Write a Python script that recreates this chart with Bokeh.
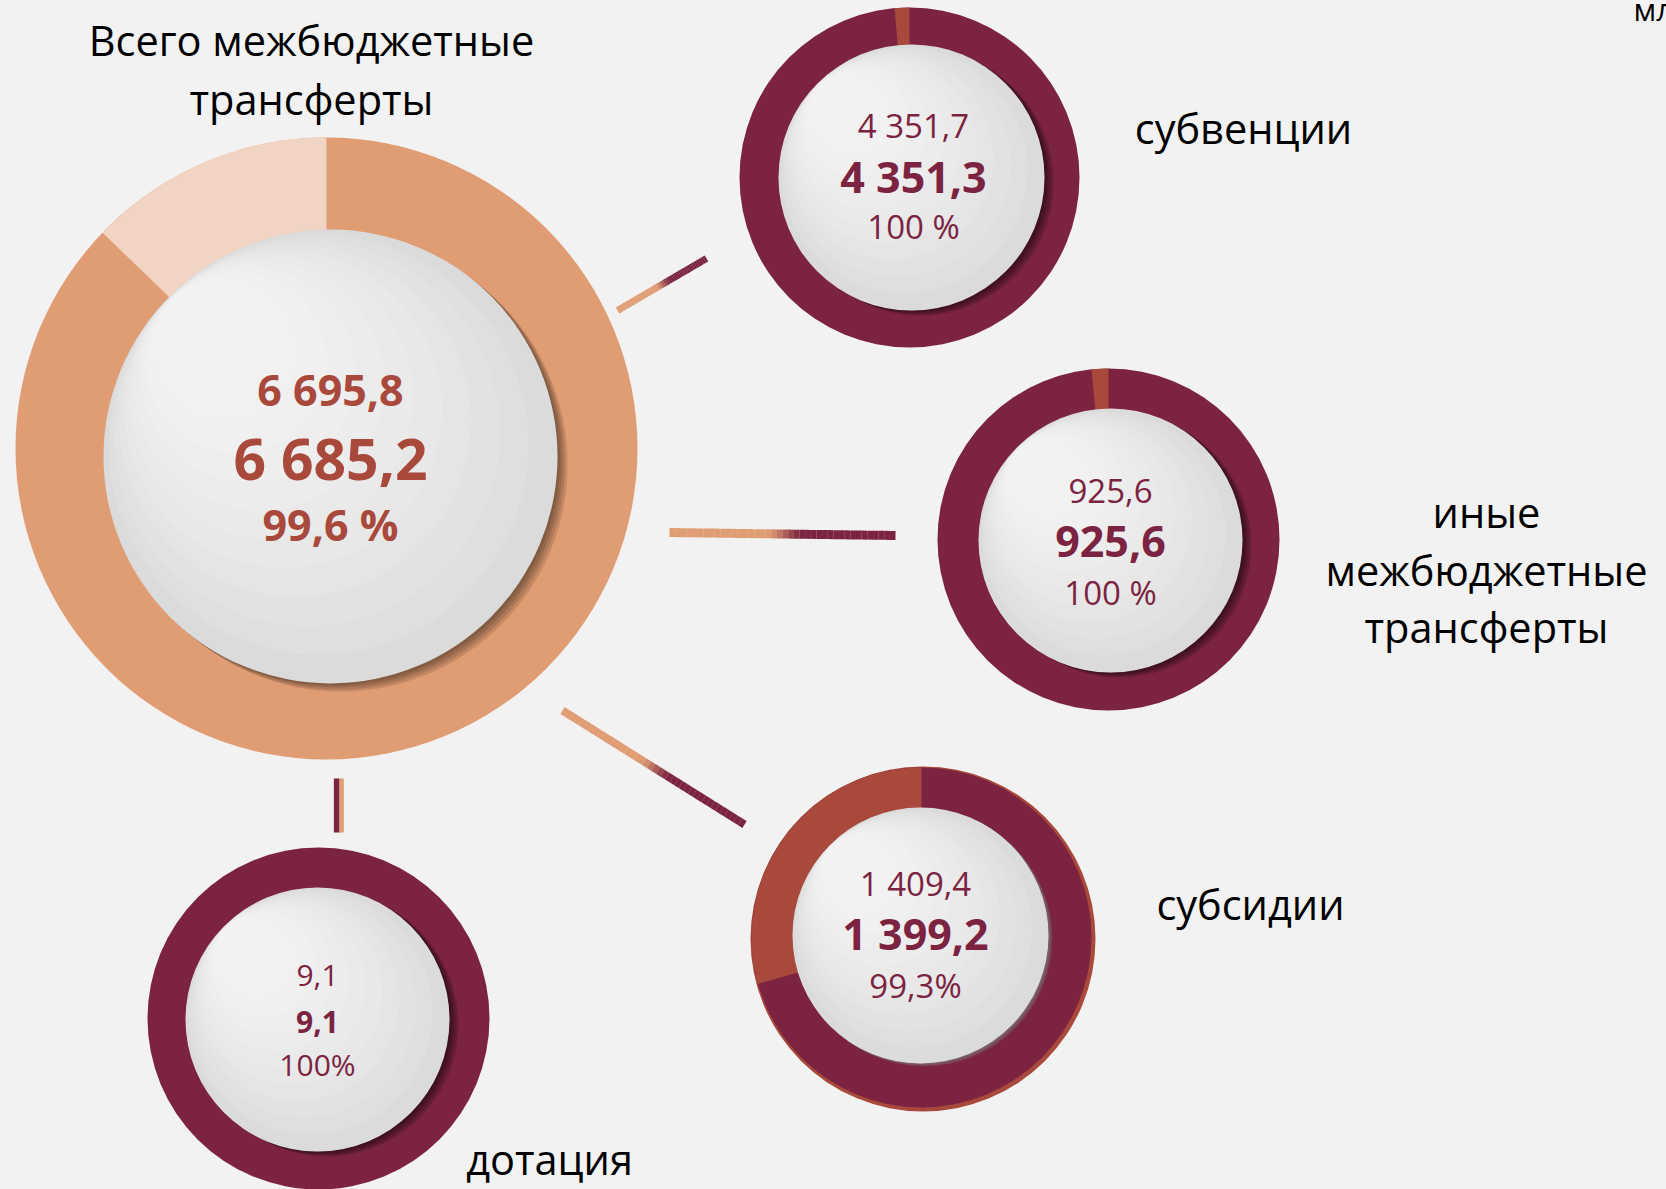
import math
from bokeh.plotting import figure
from bokeh.models import Range1d, GlobalInlineStyleSheet
from bokeh.core.properties import value
from bokeh.embed import file_html
from bokeh.resources import INLINE

# ---------------- data ----------------
categories = ["Всего межбюджетные трансферты", "субвенции",
              "иные межбюджетные трансферты", "субсидии", "дотация"]
label_lines = [["Всего межбюджетные", "трансферты"], ["субвенции"],
               ["иные", "межбюджетные", "трансферты"], ["субсидии"], ["дотация"]]
plan_values = [6695.8, 4351.7, 925.6, 1409.4, 9.1]      # план, млн руб.
fact_values = [6685.2, 4351.3, 925.6, 1399.2, 9.1]      # исполнено, млн руб.
percent_values = [99.6, 100, 100, 99.3, 100]            # % исполнения
percent_space = [" ", " ", " ", "", ""]
ring_main_share = [87.2, 98.6, 98.4, 70.6, 100.0]       # доли кольца, %
ring_accent_share = [12.8, 1.4, 1.6, 29.4, 0.0]
unit_label = "млн рублей"

# ---------------- styles / layout ----------------
BG = "#F2F2F2"
ring_main_color = ["#E09C72", "#7B2340", "#7B2340", "#7B2340", "#7B2340"]
ring_accent_color = ["#F2D4C4", "#A8493C", "#A8493C", "#A8493C", "#A8493C"]
text_color = ["#A8493C", "#7B2340", "#7B2340", "#7B2340", "#7B2340"]

W, H = 1666, 1189
def Y(y):
    return H - y

ring_cx = [326, 909, 1108, 921, 318]
ring_cy = [448, 177, 539, 937, 1018]
ring_R = [311, 170, 171, 170, 171]
face_cx = [330, 911, 1110, 920, 317]
face_cy = [456, 177, 540, 935, 1019]
face_r = [227, 133, 132, 128, 132]
shadow_off = [(10, 8), (9, 5), (9, 5), (4, 3), (9, 5)]
shadow_color = ["#000000", "#000000", "#000000", "#7a7a7a", "#000000"]
shadow_alpha = [0.12, 0.15, 0.15, 0.25, 0.15]

text_x = [330, 913, 1110, 915, 317]
text_rows = [[389, 457, 524], [125, 176, 226], [490, 541, 592], [883, 933, 985], [975, 1021, 1064]]
text_sizes = [[43, 57, 43], [33, 43, 33], [33, 43, 33], [33, 43, 33], [30, 30, 30]]
text_bold = [[True, True, True], [False, True, False], [False, True, False],
             [False, True, False], [False, True, False]]

label_x = [311, 1243, 1486, 1250, 549]
label_base = [[39, 98], [127], [511, 569, 626], [903], [1158]]
LABEL_SIZE = 41.5

FONT = "Open Sans"

p = figure(width=W, height=H, x_range=Range1d(0, W), y_range=Range1d(0, H),
           output_backend="svg", toolbar_location=None, min_border=0,
           x_axis_type=None, y_axis_type=None,
           background_fill_color=BG, border_fill_color=BG, outline_line_color=None)
p.grid.visible = False
p.stylesheets = [GlobalInlineStyleSheet(css="html, body { background-color: #F2F2F2; }")]

# ---------------- connectors (gradient bars) ----------------
ORANGE = (0xE0, 0x9C, 0x72)
MAROON = (0x7B, 0x23, 0x40)
def mix(t):
    return "#%02x%02x%02x" % tuple(int(round(a + (b - a) * t)) for a, b in zip(ORANGE, MAROON))

connectors = [((617, 310), (706, 258), 7), ((669, 532), (895, 535), 9), ((562, 710), (744, 824), 8)]
N = 40
for (x0, y0), (x1, y1), w in connectors:
    xs0, ys0, xs1, ys1, cols = [], [], [], [], []
    for i in range(N):
        t0, t1 = i / N, min((i + 1.02) / N, 1)
        tm = (i + 0.5) / N
        u = min(max((tm - 0.42) / 0.18, 0), 1)
        u = u * u * (3 - 2 * u)
        xs0.append(x0 + (x1 - x0) * t0); ys0.append(Y(y0 + (y1 - y0) * t0))
        xs1.append(x0 + (x1 - x0) * t1); ys1.append(Y(y0 + (y1 - y0) * t1))
        cols.append(mix(u))
    p.segment(xs0, ys0, xs1, ys1, line_color=cols, line_width=w, line_cap="butt")
# short vertical connector (maroon / orange halves)
p.segment([336.2], [Y(778)], [336.2], [Y(832)], line_color="#7B2340", line_width=5.7)
p.segment([341.2], [Y(778)], [341.2], [Y(832)], line_color="#E09C72", line_width=4.3)

def fmt(v):
    return f"{v:,.1f}".replace(",", " ").replace(".", ",")

# ---------------- donuts ----------------
for k in range(len(categories)):
    cx, cy = ring_cx[k], Y(ring_cy[k])
    R = ring_R[k]
    if k == 3:
        p.circle([cx + 1.5], [cy - 1.5], radius=R + 2.5, fill_color="#A8493C", line_color=None)
    p.circle([cx], [cy], radius=R, fill_color=ring_main_color[k], line_color=None)
    if ring_accent_share[k] > 0:
        a0 = math.pi / 2
        a1 = a0 + 2 * math.pi * ring_accent_share[k] / 100.0
        p.wedge([cx], [cy], radius=R, start_angle=a0, end_angle=a1,
                fill_color=ring_accent_color[k], line_color=None)
    # shadow of the face
    fx, fy, r = face_cx[k], Y(face_cy[k]), face_r[k]
    dx, dy = shadow_off[k]
    for j in range(4):
        f = (j + 1) / 4
        p.circle([fx + dx * f], [fy - dy * f], radius=r, fill_color=shadow_color[k],
                 fill_alpha=shadow_alpha[k], line_color=None)
    # face with soft diagonal light
    p.circle([fx], [fy], radius=r, fill_color="#D7D7D7", line_color=None)
    L = 11
    for i in range(L):
        rr = r * (1 - 0.075 * i)
        s = r * 0.052 * i
        p.circle([fx - s], [fy + s], radius=rr, fill_color="#FFFFFF", fill_alpha=0.12, line_color=None)

    # texts inside
    pct = f"{percent_values[k]:g}".replace(".", ",") + percent_space[k] + "%"
    lines = [fmt(plan_values[k]), fmt(fact_values[k]), pct]
    for li, t in enumerate(lines):
        p.text([text_x[k]], [Y(text_rows[k][li])], text=[t], text_align="center",
               text_baseline="middle", text_color=text_color[k],
               text_font=value(FONT), text_font_size=f"{text_sizes[k][li]}px",
               text_font_style="bold" if text_bold[k][li] else "normal")

    # category labels
    for li, t in enumerate(label_lines[k]):
        p.text([label_x[k]], [Y(label_base[k][li])], text=[t], text_align="center",
               text_baseline="alphabetic", text_color="#000000",
               text_font=value(FONT), text_font_size=f"{LABEL_SIZE}px")

p.text([1633], [Y(8)], text=[unit_label], text_align="left", text_baseline="alphabetic",
       text_color="#000000", text_font=value(FONT), text_font_size="31px")

open("out.html", "w").write(file_html(p, INLINE))
